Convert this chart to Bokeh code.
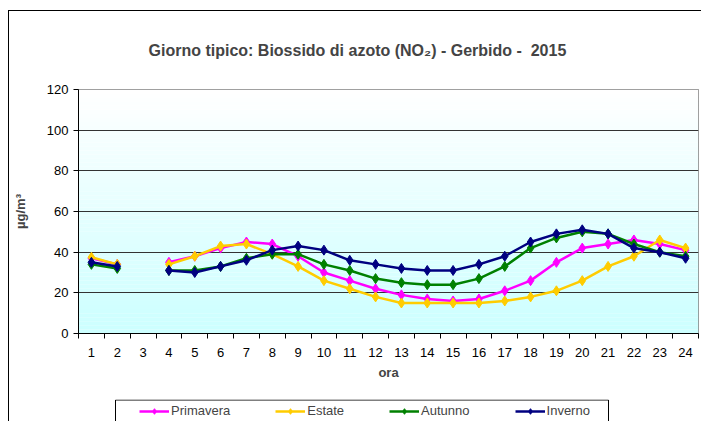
import math
from bokeh.plotting import figure
from bokeh.layouts import column
from bokeh.models import FixedTicker, BoxAnnotation, Legend, LegendItem, ColumnDataSource
from bokeh.embed import file_html
from bokeh.resources import INLINE

nan = float("nan")
hours = list(range(1, 25))
primavera = [37, 34, nan, 35, 38, 42, 45, 44, 38, 30, 26, 22, 19, 17, 16, 17, 21, 26, 35, 42, 44, 46, 44, 41]
estate = [37.5, 34, nan, 34, 38, 43, 44, 39, 33, 26, 22, 18, 15, 15, 15, 15, 16, 18, 21, 26, 33, 38, 46, 42]
autunno = [34, 32, nan, 31, 31, 33, 37, 39, 39, 34, 31, 27, 25, 24, 24, 27, 33, 42, 47, 50, 49, 44, 40, 38]
inverno = [35, 33, nan, 31, 30, 33, 36, 41, 43, 41, 36, 34, 32, 31, 31, 34, 38, 45, 49, 51, 49, 42, 40, 37]
series_names = ["Primavera", "Estate", "Autunno", "Inverno"]
series_colors = ["#ff00ff", "#ffcc00", "#008000", "#000080"]
y_ticks = [0, 20, 40, 60, 80, 100, 120]
title_text = "Giorno tipico: Biossido di azoto (NO\u2082) - Gerbido - \u00a02015"

FONT = "Liberation Sans"
all_series = [primavera, estate, autunno, inverno]

p = figure(width=692, height=388, x_range=(0.5, 24.5), y_range=(0, 120),
           output_backend="svg", toolbar_location=None,
           min_border_left=68, min_border_right=3, min_border_top=78, min_border_bottom=66)

# background gradient of plot area
nb = 60
for i in range(nb):
    t = i / (nb - 1)
    r = int(round(204 + (255 - 204) * t))
    col = "#%02x%02x%02x" % (r, 255, 255)
    p.add_layout(BoxAnnotation(bottom=120 * i / nb, top=120 * (i + 1) / nb,
                               fill_color=col, fill_alpha=1.0, line_color=None,
                               level="image"))

p.outline_line_color = "#808080"
p.outline_line_width = 1

p.xgrid.visible = False
p.ygrid.ticker = FixedTicker(ticks=y_ticks)
p.ygrid.grid_line_color = "#333333"
p.ygrid.grid_line_width = 1

# x axis
p.xaxis.ticker = FixedTicker(ticks=hours, minor_ticks=[h - 0.5 for h in hours] + [hours[-1] + 0.5])
p.xaxis.major_tick_out = 0
p.xaxis.major_tick_in = 0
p.xaxis.minor_tick_out = 5
p.xaxis.minor_tick_in = 0
p.xaxis.minor_tick_line_color = "black"
p.xaxis.axis_line_color = "black"
p.xaxis.major_label_standoff = 9
p.xaxis.major_label_text_font = FONT
p.xaxis.major_label_text_font_size = "13px"
p.xaxis.major_label_text_color = "black"
p.xaxis.axis_label = "ora"
p.xaxis.axis_label_text_font = FONT
p.xaxis.axis_label_text_font_size = "13px"
p.xaxis.axis_label_text_font_style = "bold"
p.xaxis.axis_label_standoff = 5

# y axis
p.yaxis.ticker = FixedTicker(ticks=y_ticks)
p.yaxis.minor_tick_line_color = None
p.yaxis.major_tick_out = 5
p.yaxis.major_tick_in = 0
p.yaxis.axis_line_color = "black"
p.yaxis.major_label_standoff = 5
p.yaxis.major_label_text_font = FONT
p.yaxis.major_label_text_font_size = "13px"
p.yaxis.major_label_text_color = "black"
p.yaxis.axis_label = "\u00b5g/m\u00b3"
p.yaxis.axis_label_text_font = FONT
p.yaxis.axis_label_text_font_size = "13px"
p.yaxis.axis_label_text_font_style = "bold"
p.yaxis.axis_label_standoff = 16

p.title.text = title_text
p.title.text_font = FONT
p.title.text_font_size = "16px"
p.title.text_font_style = "bold"
p.title.align = "left"
p.title.offset = 70
p.title.vertical_align = "top"
p.title.standoff = 58

for name, col, vals in zip(series_names, series_colors, all_series):
    src = ColumnDataSource(dict(x=hours, y=vals))
    p.line("x", "y", source=src, line_color=col, line_width=2.5)
    p.scatter("x", "y", source=src, marker="diamond", size=10, fill_color=col, line_color=col)

# legend strip: a small figure below the chart; its ranges lie far from the data,
# so its renderers only serve as legend glyph sources
pl = figure(width=692, height=22, x_range=(1000, 1001), y_range=(1000, 1001),
            x_axis_location=None, y_axis_location=None,
            output_backend="svg", toolbar_location=None,
            min_border_left=68, min_border_right=3, min_border_top=0, min_border_bottom=0)
pl.grid.visible = False
pl.outline_line_color = None
pl.background_fill_color = "white"
pl.add_layout(BoxAnnotation(left=106, right=599, top=0.5, bottom=40,
                            left_units="canvas", right_units="canvas",
                            top_units="canvas", bottom_units="canvas",
                            fill_color="white", fill_alpha=1.0,
                            line_color="black", line_width=1, line_alpha=1.0,
                            level="underlay"))

items = []
for name, col, vals in zip(series_names, series_colors, all_series):
    src = ColumnDataSource(dict(x=hours, y=vals))
    ln = pl.line("x", "y", source=src, line_color=col, line_width=2.5)
    sc = pl.scatter("x", "y", source=src, marker="diamond", size=10, fill_color=col, line_color=col)
    items.append(LegendItem(label=name, renderers=[ln, sc]))

legend = Legend(items=items, orientation="horizontal", location=(61, 3),
                padding=0, spacing=45, glyph_width=30, glyph_height=14, label_height=14,
                label_standoff=2, label_text_font=FONT, label_text_font_size="13px",
                border_line_color=None, background_fill_alpha=0.0, margin=0)
pl.add_layout(legend, "center")

layout = column(p, pl, spacing=0,
                styles={"border-left": "1px solid black", "border-top": "1px solid black",
                        "margin-left": "8px", "margin-top": "10px"})

open("out.html", "w").write(file_html(layout, INLINE))
